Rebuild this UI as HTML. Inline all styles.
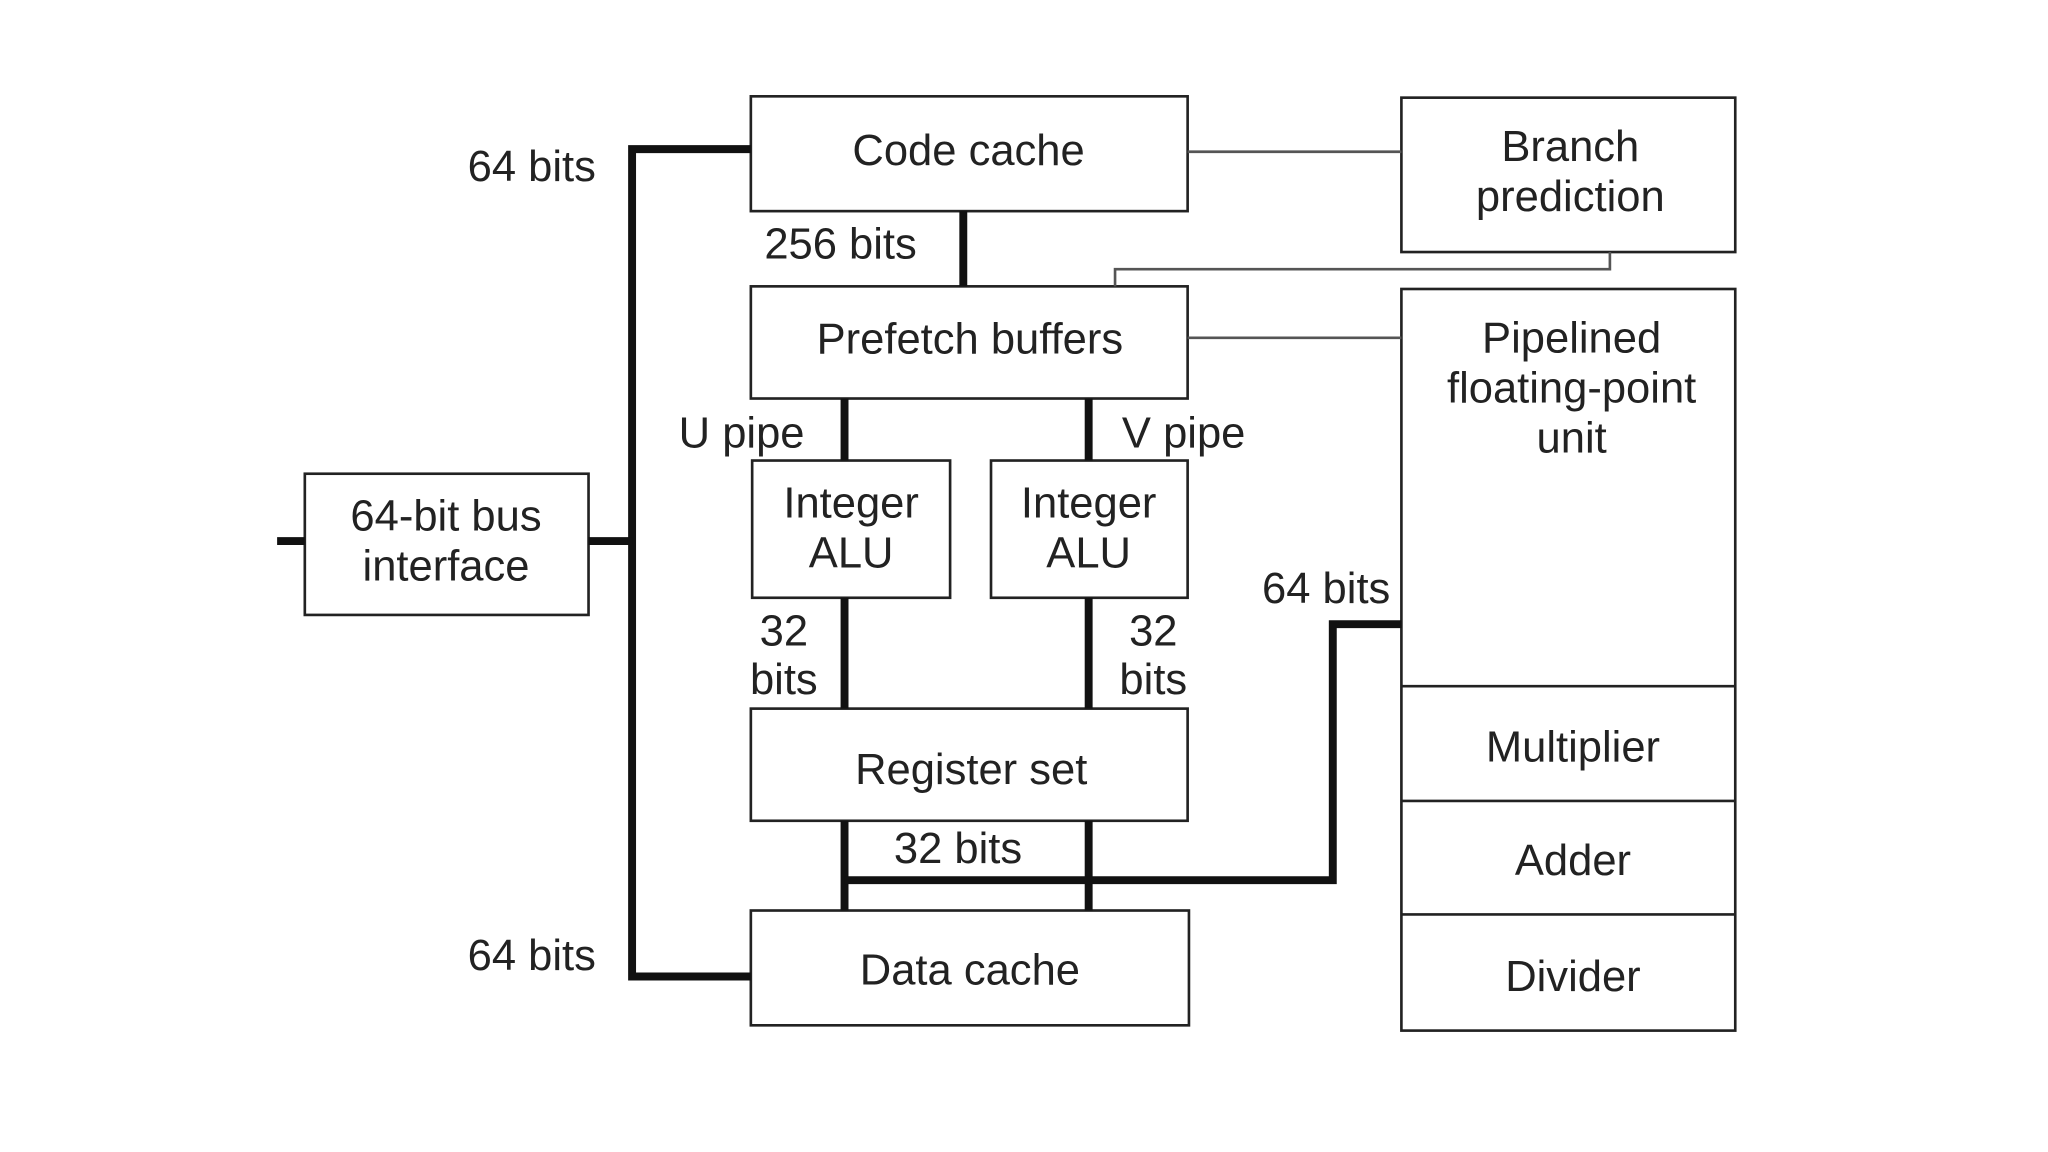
<!DOCTYPE html>
<html><head><style>html,body{margin:0;padding:0;background:#fff}svg{display:block}</style></head>
<body>
<svg width="2048" height="1152" viewBox="0 0 1552 873" preserveAspectRatio="none" xmlns="http://www.w3.org/2000/svg">
<rect width="1552" height="873" fill="#fff"/>
<g fill="none" stroke="#222" stroke-width="2">
<rect x="569" y="73" width="331" height="87"/>
<rect x="1062" y="74" width="253" height="117"/>
<rect x="569" y="217" width="331" height="85"/>
<rect x="1062" y="219" width="253" height="562"/>
<line x1="1062" y1="520" x2="1315" y2="520"/>
<line x1="1062" y1="607" x2="1315" y2="607"/>
<line x1="1062" y1="693" x2="1315" y2="693"/>
<rect x="570" y="349" width="150" height="104"/>
<rect x="751" y="349" width="149" height="104"/>
<rect x="569" y="537" width="331" height="85"/>
<rect x="569" y="690" width="332" height="87"/>
<rect x="231" y="359" width="215" height="107"/>
</g>
<g fill="none" stroke="#555" stroke-width="2">
<line x1="900" y1="115" x2="1062" y2="115"/>
<line x1="900" y1="256" x2="1062" y2="256"/>
<polyline points="1220,191 1220,204 845,204 845,217"/>
</g>
<g fill="none" stroke="#111" stroke-width="6">
<polyline points="569,113 479,113 479,740 569,740"/>
<line x1="446" y1="410" x2="479" y2="410"/>
<line x1="210" y1="410" x2="231" y2="410"/>
<line x1="730" y1="160" x2="730" y2="217"/>
<line x1="640" y1="302" x2="640" y2="349"/>
<line x1="825" y1="302" x2="825" y2="349"/>
<line x1="640" y1="453" x2="640" y2="537"/>
<line x1="825" y1="453" x2="825" y2="537"/>
<line x1="640" y1="622" x2="640" y2="690"/>
<line x1="825" y1="622" x2="825" y2="690"/>
<polyline points="640,667 1010,667 1010,473 1062,473"/>
</g>
<g font-family="Liberation Sans, sans-serif" font-size="33" fill="#222" text-anchor="middle">
<text x="734" y="125">Code cache</text>
<text x="1190" y="122">Branch</text>
<text x="1190" y="160">prediction</text>
<text x="735" y="268">Prefetch buffers</text>
<text x="1191" y="267">Pipelined</text>
<text x="1191" y="305">floating-point</text>
<text x="1191" y="343">unit</text>
<text x="645" y="392">Integer</text>
<text x="645" y="430">ALU</text>
<text x="825" y="392">Integer</text>
<text x="825" y="430">ALU</text>
<text x="736" y="594">Register set</text>
<text x="735" y="746">Data cache</text>
<text x="1192" y="577">Multiplier</text>
<text x="1192" y="663">Adder</text>
<text x="1192" y="751">Divider</text>
<text x="338" y="402">64-bit bus</text>
<text x="338" y="440">interface</text>
<text x="403" y="137">64 bits</text>
<text x="637" y="196">256 bits</text>
<text x="562" y="339">U pipe</text>
<text x="897" y="339">V pipe</text>
<text x="594" y="489">32</text>
<text x="594" y="526">bits</text>
<text x="874" y="489">32</text>
<text x="874" y="526">bits</text>
<text x="1005" y="457">64 bits</text>
<text x="726" y="654">32 bits</text>
<text x="403" y="735">64 bits</text>
</g>
</svg>
</body></html>
